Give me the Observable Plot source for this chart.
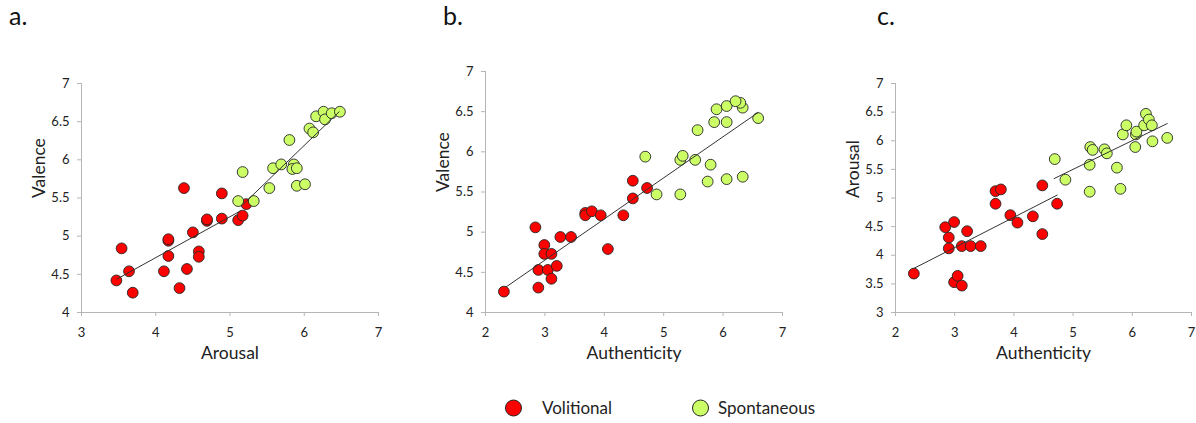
<!DOCTYPE html>
<html>
<head>
<meta charset="utf-8">
<script src="https://cdn.jsdelivr.net/npm/d3@7"></script>
<script src="https://cdn.jsdelivr.net/npm/@observablehq/plot@0.6"></script>
<style>
  html, body { margin: 0; padding: 0; background: #fff; }
  #root { position: relative; width: 1196px; height: 423px; font-family: Lato, "Open Sans", sans-serif; color: #222; }
  .panel { position: absolute; top: 0; }
  .tag { position: absolute; top: 0px; font-size: 25px; line-height: 30px; color: #111; }
  .legend { position: absolute; top: 396px; font-size: 17px; line-height: 24px; display: flex; align-items: center; color: #222; }
  .legend svg { display: block; }
</style>
</head>
<body>
<div id="root"></div>
<script>
// ---------- data ----------
const groups = ["Volitional", "Spontaneous"];
const groupColors = ["#ff0000", "#ccff66"];

// Panel a: Arousal (x) vs Valence (y)
const aVolX = [3.47, 3.54, 3.64, 3.69, 4.38, 4.11, 4.17, 4.17, 4.17, 4.32, 4.42, 4.50, 4.58, 4.58, 4.69, 4.69, 4.89, 4.89, 5.11, 5.17, 5.22];
const aVolY = [4.42, 4.84, 4.54, 4.26, 5.63, 4.54, 4.74, 4.94, 4.96, 4.32, 4.57, 5.05, 4.80, 4.73, 5.20, 5.22, 5.56, 5.23, 5.21, 5.27, 5.42];
const aSpoX = [5.17, 5.11, 5.32, 5.53, 5.58, 5.69, 5.80, 5.86, 5.84, 5.90, 5.90, 6.01, 6.07, 6.12, 6.16, 6.26, 6.28, 6.37, 6.48];
const aSpoY = [5.84, 5.46, 5.46, 5.63, 5.89, 5.94, 6.26, 5.94, 5.88, 5.89, 5.66, 5.68, 6.41, 6.36, 6.57, 6.63, 6.53, 6.61, 6.63];
const aFitVolX = [3.48, 5.14], aFitVolY = [4.44, 5.33];
const aFitSpoX = [5.17, 6.47], aFitSpoY = [5.41, 6.63];

// Panel b: Authenticity (x) vs Valence (y)
const bVolX = [2.31, 2.84, 2.89, 2.89, 2.99, 2.99, 3.05, 3.11, 3.11, 3.20, 3.26, 3.44, 3.68, 3.68, 3.79, 3.94, 4.06, 4.32, 4.48, 4.48, 4.72];
const bVolY = [4.26, 5.06, 4.31, 4.53, 4.84, 4.73, 4.53, 4.73, 4.42, 4.58, 4.94, 4.94, 5.24, 5.21, 5.26, 5.21, 4.79, 5.21, 5.42, 5.64, 5.55];
const bSpoX = [4.69, 4.88, 5.28, 5.28, 5.32, 5.53, 5.57, 5.79, 5.74, 5.85, 5.89, 6.06, 6.06, 6.06, 6.33, 6.33, 6.29, 6.21, 6.59];
const bSpoY = [5.94, 5.47, 5.47, 5.90, 5.95, 5.90, 6.27, 5.84, 5.63, 6.37, 6.53, 6.37, 6.57, 5.66, 5.69, 6.55, 6.61, 6.63, 6.42];
const bFitX = [2.35, 6.59], bFitY = [4.32, 6.49];

// Panel c: Authenticity (x) vs Arousal (y)
const cVolX = [2.31, 2.84, 2.90, 2.90, 2.99, 2.99, 3.05, 3.12, 3.12, 3.21, 3.27, 3.44, 3.69, 3.69, 3.78, 3.94, 4.06, 4.32, 4.48, 4.48, 4.73];
const cVolY = [3.68, 4.49, 4.31, 4.12, 4.58, 3.53, 3.64, 3.47, 4.16, 4.42, 4.16, 4.16, 4.90, 5.12, 5.15, 4.70, 4.57, 4.68, 5.22, 4.37, 4.90];
const cSpoX = [4.69, 4.87, 5.28, 5.28, 5.29, 5.33, 5.53, 5.57, 5.74, 5.80, 5.84, 5.90, 6.05, 6.06, 6.07, 6.20, 6.23, 6.28, 6.33, 6.34, 6.59];
const cSpoY = [5.68, 5.32, 5.11, 5.58, 5.89, 5.84, 5.85, 5.78, 5.53, 5.16, 6.11, 6.27, 5.89, 6.11, 6.16, 6.27, 6.47, 6.37, 6.27, 5.99, 6.05];
const cFitVolX = [2.31, 4.73], cFitVolY = [3.77, 5.05];
const cFitSpoX = [4.68, 6.59], cFitSpoY = [5.34, 6.30];

// axis ticks
const ticksX37 = [3, 4, 5, 6, 7];
const ticksX27 = [2, 3, 4, 5, 6, 7];
const ticksY47 = [4, 4.5, 5, 5.5, 6, 6.5, 7];
const ticksY37 = [3, 3.5, 4, 4.5, 5, 5.5, 6, 6.5, 7];

// ---------- helpers ----------
const pts = (xs, ys, g) => xs.map((x, i) => ({x, y: ys[i], g}));
const FONT = "Lato, 'Open Sans', sans-serif";
const fmt = d => String(d);

function panel({left, width, height, mL, mR, mT, mB, xDomain, yDomain, xTicks, yTicks, xLabel, yLabel, dots, fits}) {
  const marks = [
    Plot.ruleY([yDomain[0]], {x1: xDomain[0], x2: xDomain[1], stroke: "#b5b5b5", strokeWidth: 1}),
    Plot.ruleX([xDomain[0]], {y1: yDomain[0], y2: yDomain[1], stroke: "#b5b5b5", strokeWidth: 1}),
    Plot.axisX({ticks: xTicks, tickFormat: fmt, tickSize: 4, tickPadding: 11, stroke: "#b5b5b5", fill: "#222", fontSize: 13, label: null}),
    Plot.axisY({ticks: yTicks, tickFormat: fmt, tickSize: 4, tickPadding: 8, stroke: "#b5b5b5", fill: "#222", fontSize: 13, label: null}),
    Plot.text([xLabel], {frameAnchor: "bottom", dy: 41, lineAnchor: "middle", fontSize: 17.5, fill: "#222", text: d => d}),
    Plot.text([yLabel], {frameAnchor: "left", dx: -42, rotate: -90, lineAnchor: "middle", fontSize: 17.5, fill: "#222", text: d => d}),
    Plot.dot(dots, {x: "x", y: "y", fill: "g", r: 5.4, stroke: "#262626", strokeWidth: 0.9}),
    ...fits.map(f => Plot.line(f.xs.map((x, i) => ({x, y: f.ys[i]})), {x: "x", y: "y", stroke: "#333", strokeWidth: 1}))
  ];
  const svg = Plot.plot({
    width, height,
    marginLeft: mL, marginRight: mR, marginTop: mT, marginBottom: mB,
    style: {fontFamily: FONT, background: "transparent", overflow: "visible", maxWidth: "none"},
    x: {domain: xDomain, axis: null},
    y: {domain: yDomain, axis: null},
    color: {domain: groups, range: groupColors},
    marks
  });
  const wrap = document.createElement("div");
  wrap.className = "panel";
  wrap.style.left = left + "px";
  wrap.appendChild(svg);
  document.getElementById("root").appendChild(wrap);
}

panel({
  left: 0, width: 388, height: 372, mL: 81, mR: 10, mT: 83, mB: 60,
  xDomain: [3, 7], yDomain: [4, 7], xTicks: ticksX37, yTicks: ticksY47,
  xLabel: "Arousal", yLabel: "Valence",
  dots: [...pts(aVolX, aVolY, "Volitional"), ...pts(aSpoX, aSpoY, "Spontaneous")],
  fits: [{xs: aFitVolX, ys: aFitVolY}, {xs: aFitSpoX, ys: aFitSpoY}]
});
panel({
  left: 400, width: 392, height: 372, mL: 85, mR: 10, mT: 71, mB: 60,
  xDomain: [2, 7], yDomain: [4, 7], xTicks: ticksX27, yTicks: ticksY47,
  xLabel: "Authenticity", yLabel: "Valence",
  dots: [...pts(bVolX, bVolY, "Volitional"), ...pts(bSpoX, bSpoY, "Spontaneous")],
  fits: [{xs: bFitX, ys: bFitY}]
});
panel({
  left: 800, width: 396, height: 372, mL: 95, mR: 5, mT: 83, mB: 60,
  xDomain: [2, 7], yDomain: [3, 7], xTicks: ticksX27, yTicks: ticksY37,
  xLabel: "Authenticity", yLabel: "Arousal",
  dots: [...pts(cVolX, cVolY, "Volitional"), ...pts(cSpoX, cSpoY, "Spontaneous")],
  fits: [{xs: cFitVolX, ys: cFitVolY}, {xs: cFitSpoX, ys: cFitSpoY}]
});

// panel tags
const root = document.getElementById("root");
[["a.", 9], ["b.", 443], ["c.", 877]].forEach(([t, x]) => {
  const d = document.createElement("div");
  d.className = "tag"; d.style.left = x + "px"; d.textContent = t;
  root.appendChild(d);
});

// legend
[[groups[0], groupColors[0], 504, 542], [groups[1], groupColors[1], 691, 718]].forEach(([name, col, cx, tx]) => {
  const s = document.createElementNS("http://www.w3.org/2000/svg", "svg");
  s.setAttribute("width", 20); s.setAttribute("height", 20);
  s.style.position = "absolute"; s.style.left = cx + "px"; s.style.top = "398px";
  const c = document.createElementNS("http://www.w3.org/2000/svg", "circle");
  c.setAttribute("cx", 9.5); c.setAttribute("cy", 10); c.setAttribute("r", 8);
  c.setAttribute("fill", col); c.setAttribute("stroke", "#262626"); c.setAttribute("stroke-width", 1);
  s.appendChild(c); root.appendChild(s);
  const t = document.createElement("div");
  t.className = "legend"; t.style.left = tx + "px"; t.textContent = name;
  root.appendChild(t);
});
</script>
</body>
</html>
